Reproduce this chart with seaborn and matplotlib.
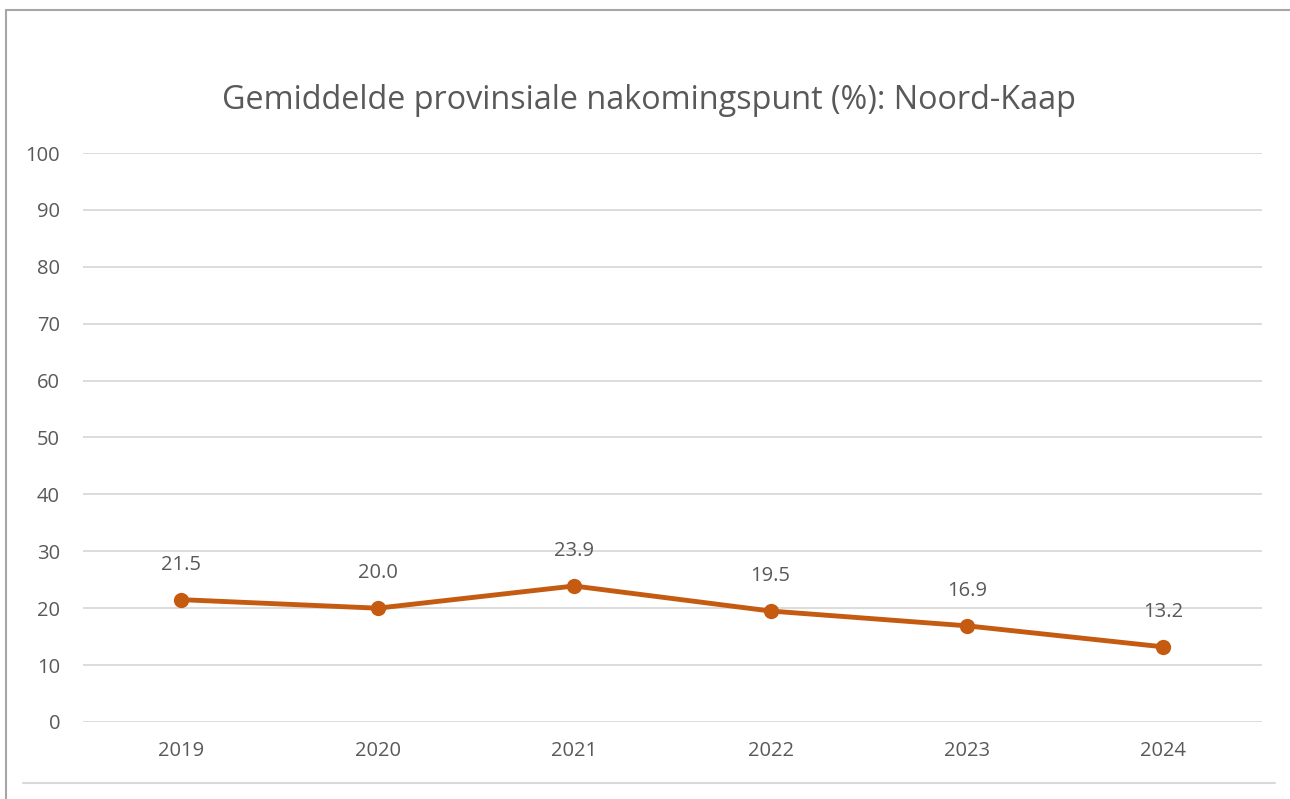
import matplotlib
matplotlib.use("Agg")
import matplotlib.pyplot as plt
from matplotlib.lines import Line2D
import seaborn as sns
import pandas as pd

years  = ["2019", "2020", "2021", "2022", "2023", "2024"]
scores = [21.5, 20.0, 23.9, 19.5, 16.9, 13.2]
yticks = list(range(0, 101, 10))
title  = "Gemiddelde provinsiale nakomingspunt (%): Noord-Kaap"

sns.set_style("white")
plt.rcParams["font.family"] = ["Open Sans", "DejaVu Sans"]

LINE_COLOR = "#C55A11"
TEXT_COLOR = "#595959"
GRID_COLOR = "#D9D9D9"

df = pd.DataFrame({"year": years, "score": scores})

fig = plt.figure(figsize=(12.9, 7.99), dpi=100)
ax = fig.add_axes([0.0643, 0.0964, 0.9137, 0.7121])

sns.lineplot(data=df, x="year", y="score", ax=ax, color=LINE_COLOR,
             linewidth=3.5, marker="o", markersize=11, markeredgewidth=0,
             sort=False, zorder=3)

for i, v in enumerate(scores):
    ax.annotate(f"{v:.1f}", (i, v), xytext=(0, 25), textcoords="offset points",
                ha="center", va="center", fontsize=14.5, color=TEXT_COLOR)

ax.set_ylim(0, 100)
ax.set_xlim(-0.5, len(years) - 0.5)
ax.set_yticks(yticks)
ax.yaxis.grid(True, color=GRID_COLOR, linewidth=1.3)
ax.xaxis.grid(False)
for s in ax.spines.values():
    s.set_visible(False)
ax.tick_params(axis="both", length=0, labelsize=14.5, labelcolor=TEXT_COLOR)
ax.tick_params(axis="y", pad=16.5)
ax.tick_params(axis="x", pad=14)
ax.set_xlabel("")
ax.set_ylabel("")

fig.text(0.503, 0.874, title, ha="center", va="center", fontsize=23.3, color=TEXT_COLOR)

# chart frame pieces
fig.add_artist(Line2D([6 / 1290, 6 / 1290], [0, 1 - 10 / 799], color="#A6A6A6", linewidth=1.5))
fig.add_artist(Line2D([6 / 1290, 1], [1 - 10 / 799, 1 - 10 / 799], color="#A6A6A6", linewidth=1.5))
fig.add_artist(Line2D([23 / 1290, 1275 / 1290], [1 - 783 / 799, 1 - 783 / 799], color=GRID_COLOR, linewidth=1.5))

fig.savefig("out.png", dpi=100)
